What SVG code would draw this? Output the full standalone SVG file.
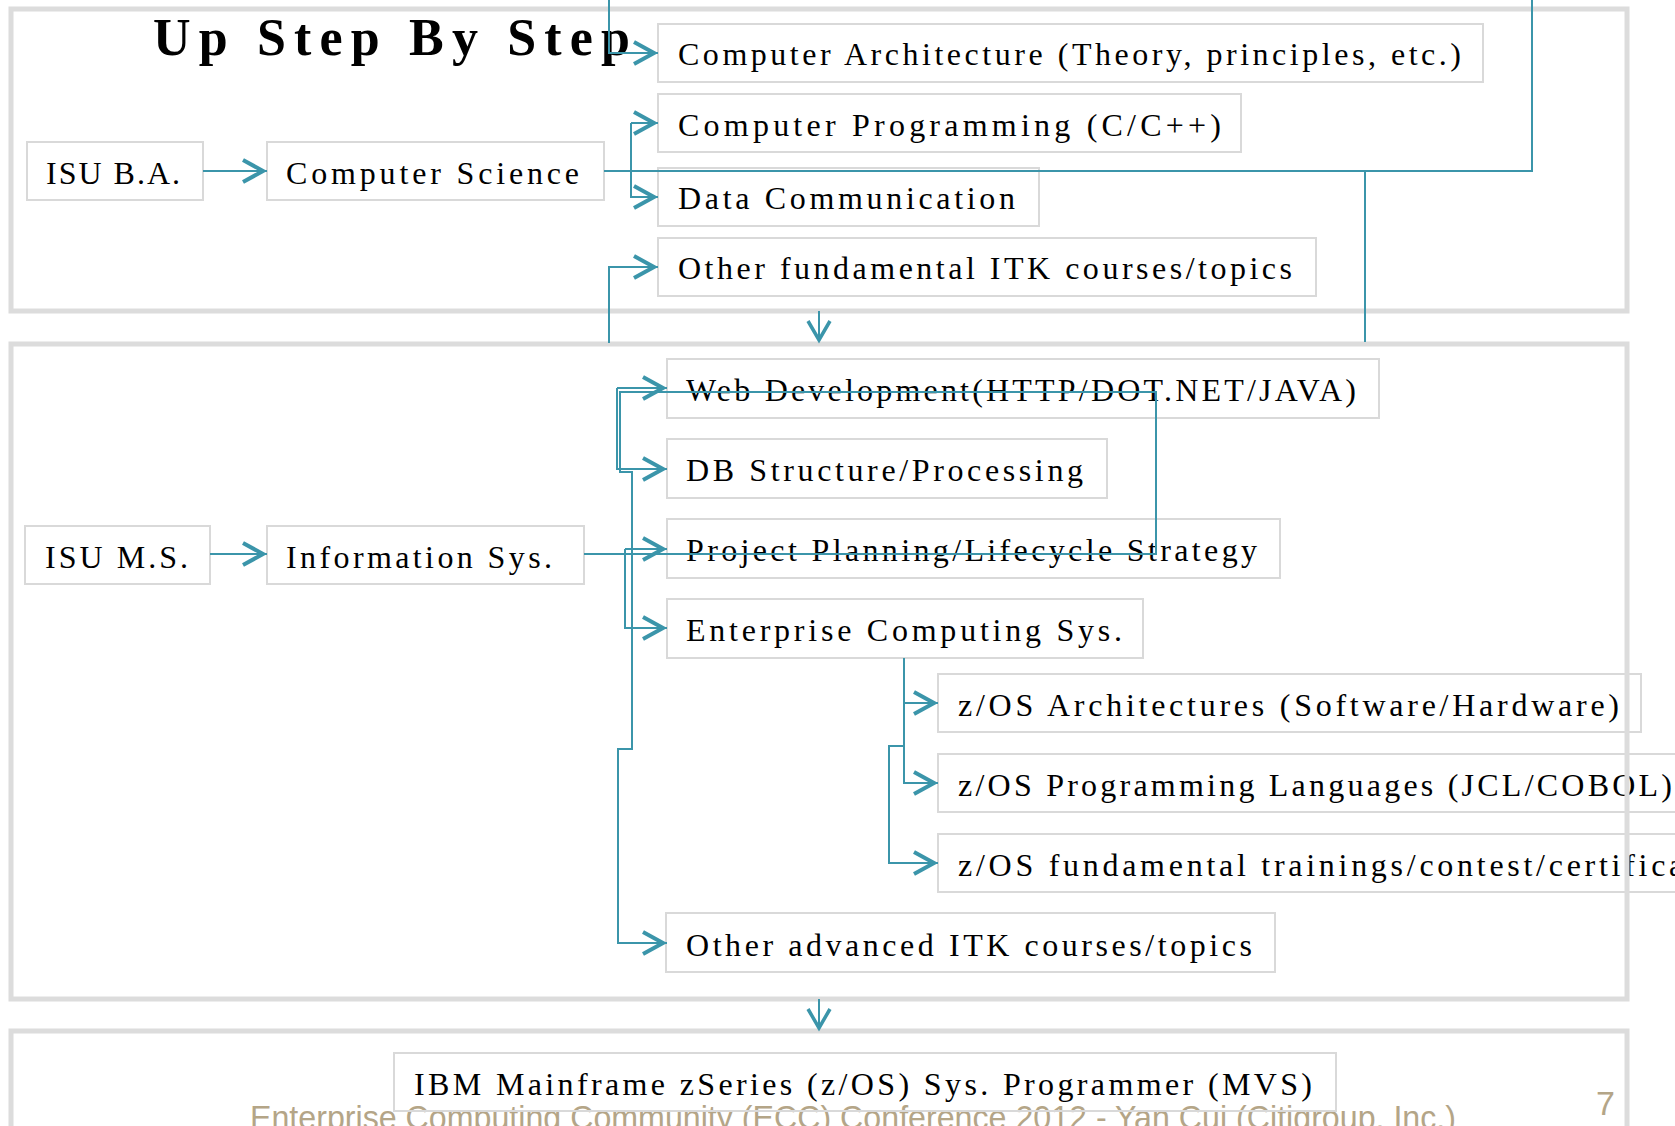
<svg xmlns="http://www.w3.org/2000/svg" width="1675" height="1126" viewBox="0 0 1675 1126">
<style>
.t{font-family:"Liberation Serif","Times New Roman",serif;font-size:32px;fill:#000}
.title{font-family:"Liberation Serif","Times New Roman",serif;font-size:52px;font-weight:bold;fill:#000}
.nb{fill:none;stroke:#d9d9d9;stroke-width:2}
.frame{fill:none;stroke:#dcdcdc;stroke-width:5}
.c{fill:none;stroke:#3b95aa;stroke-width:2}
.ca{fill:none;stroke:#3b95aa;stroke-width:2;marker-end:url(#chev)}
.dn{fill:none;stroke:#3b95aa;stroke-width:3.5}
.foot{font-family:"Liberation Sans",Arial,sans-serif;fill:#b4a587}
</style>
<defs>
<marker id="chev" markerUnits="userSpaceOnUse" markerWidth="40" markerHeight="40" viewBox="-30 -20 40 40" refX="0" refY="0" orient="auto" overflow="visible">
<path d="M-24,-11 L-4,0 L-24,11" fill="none" stroke="#3b95aa" stroke-width="4"/>
</marker>
</defs>
<rect width="1675" height="1126" fill="#fff"/>

<text class="foot" x="250" y="1129" font-size="33" textLength="1206" lengthAdjust="spacingAndGlyphs">Enterprise Computing Community (ECC) Conference 2012 - Yan Cui (Citigroup, Inc.)</text>
<text class="foot" x="1596" y="1115" font-size="34">7</text>

<text class="title" x="153" y="55" textLength="477" lengthAdjust="spacing">Up Step By Step</text>

<g id="isu-ba"><rect class="nb" x="27" y="142" width="176" height="58"/><text class="t" x="46" y="184" textLength="134" lengthAdjust="spacing">ISU B.A.</text></g>
<g id="cs"><rect class="nb" x="267" y="142" width="337" height="58"/><text class="t" x="286" y="184" textLength="293" lengthAdjust="spacing">Computer Science</text></g>
<g id="comp-arch"><rect class="nb" x="658" y="24" width="825" height="58"/><text class="t" x="678" y="65" textLength="783" lengthAdjust="spacing">Computer Architecture (Theory, principles, etc.)</text></g>
<g id="comp-prog"><rect class="nb" x="658" y="94" width="583" height="58"/><text class="t" x="678" y="136" textLength="543" lengthAdjust="spacing">Computer Programming (C/C++)</text></g>
<g id="data-comm"><rect class="nb" x="658" y="168" width="381" height="58"/><text class="t" x="678" y="209" textLength="337" lengthAdjust="spacing">Data Communication</text></g>
<g id="other-fund"><rect class="nb" x="658" y="238" width="658" height="58"/><text class="t" x="678" y="279" textLength="614" lengthAdjust="spacing">Other fundamental ITK courses/topics</text></g>

<g id="isu-ms"><rect class="nb" x="25" y="526" width="185" height="58"/><text class="t" x="45" y="568" textLength="143" lengthAdjust="spacing">ISU M.S.</text></g>
<g id="info-sys"><rect class="nb" x="267" y="526" width="317" height="58"/><text class="t" x="286" y="568" textLength="266" lengthAdjust="spacing">Information Sys.</text></g>
<g id="web-dev"><rect class="nb" x="667" y="359" width="712" height="59"/><text class="t" x="686" y="401" textLength="670" lengthAdjust="spacing">Web Development(HTTP/DOT.NET/JAVA)</text></g>
<g id="db"><rect class="nb" x="667" y="439" width="440" height="59"/><text class="t" x="686" y="481" textLength="397" lengthAdjust="spacing">DB Structure/Processing</text></g>
<g id="project"><rect class="nb" x="667" y="519" width="613" height="59"/><text class="t" x="686" y="561" textLength="571" lengthAdjust="spacing">Project Planning/Lifecycle Strategy</text></g>
<g id="enterprise"><rect class="nb" x="667" y="599" width="476" height="59"/><text class="t" x="686" y="641" textLength="436" lengthAdjust="spacing">Enterprise Computing Sys.</text></g>
<g id="zos-arch"><rect class="nb" x="938" y="674" width="703" height="58"/><text class="t" x="958" y="716" textLength="661" lengthAdjust="spacing">z/OS Architectures (Software/Hardware)</text></g>
<g id="zos-prog"><rect class="nb" x="938" y="754" width="760" height="58"/><text class="t" x="958" y="796" textLength="714" lengthAdjust="spacing">z/OS Programming Languages (JCL/COBOL)</text></g>
<g id="zos-fund"><rect class="nb" x="938" y="834" width="840" height="58"/><text class="t" x="958" y="876" textLength="790" lengthAdjust="spacing">z/OS fundamental trainings/contest/certification</text></g>
<g id="other-adv"><rect class="nb" x="666" y="913" width="609" height="59"/><text class="t" x="686" y="956" textLength="566" lengthAdjust="spacing">Other advanced ITK courses/topics</text></g>

<g id="ibm"><rect class="nb" x="394" y="1053" width="942" height="58"/><text class="t" x="414" y="1095" textLength="898" lengthAdjust="spacing">IBM Mainframe zSeries (z/OS) Sys. Programmer (MVS)</text></g>

<g id="frames">
<rect class="frame" x="11" y="9" width="1616" height="302"/>
<rect class="frame" x="11" y="344" width="1616" height="655"/>
<rect class="frame" x="11" y="1031" width="1616" height="200"/>
</g>

<g id="connectors">
<path class="ca" d="M203,171 H267"/>
<path class="c" d="M604,171 H1532 V-5"/>
<path class="ca" d="M609,-5 V53 H658"/>
<path class="ca" d="M631,123 H658"/>
<path class="ca" d="M631,123 V197 H658"/>
<path class="ca" d="M609,343 V267 H658"/>
<path class="c" d="M1365,171 V342"/>
<path class="c" stroke-width="1.5" d="M819,311 V338"/>
<path class="dn" d="M808,321 L819,340 L830,321"/>

<path class="ca" d="M210,554 H267"/>
<path class="ca" d="M584,554 H1156 V392 H620 V472 H632 V749 H618 V943 H667"/>
<path class="ca" d="M617,388 H667"/>
<path class="ca" d="M617,388 V469 H667"/>
<path class="ca" d="M625,549 H667"/>
<path class="ca" d="M625,549 V628 H667"/>
<path class="ca" d="M904,658 V703 H938"/>
<path class="ca" d="M904,703 V783 H938"/>
<path class="ca" d="M904,746 H889 V863 H938"/>
<path class="c" stroke-width="1.5" d="M819,999 V1026"/>
<path class="dn" d="M808,1009 L819,1028 L830,1009"/>
</g>
</svg>
